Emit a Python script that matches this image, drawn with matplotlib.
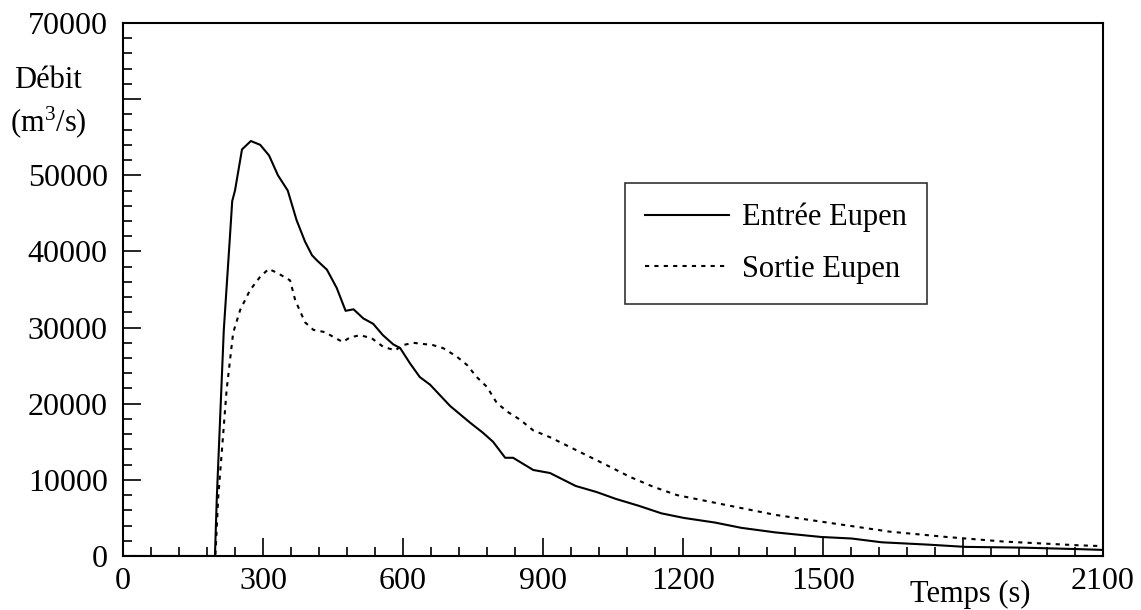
import matplotlib
matplotlib.use("Agg")
import matplotlib.pyplot as plt
import matplotlib.transforms as mtransforms
from matplotlib.ticker import FixedLocator, MultipleLocator

plt.rcParams["font.family"] = ["Liberation Serif", "DejaVu Serif"]
plt.rcParams["mathtext.fontset"] = "custom"
plt.rcParams["mathtext.rm"] = "Liberation Serif"
plt.rcParams["mathtext.default"] = "regular"

# Entrée Eupen (trait plein)
t_entree = [0, 190, 197, 201, 216, 229, 234, 240, 255, 274, 294, 313, 332, 353,
            372, 390, 405, 416, 437, 458, 477, 494, 515, 536, 557, 579, 594,
            615, 636, 658, 701, 744, 771, 793, 819, 836, 879, 915, 970, 1015,
            1056, 1105, 1154, 1202, 1268, 1325, 1398, 1496, 1561, 1626, 1724,
            1805, 1928, 2050, 2100]
q_entree = [0, 0, 0, 7600, 29700, 41800, 46600, 48000, 53400, 54500, 54000,
            52600, 50000, 48000, 44100, 41300, 39500, 38800, 37600, 35200,
            32200, 32400, 31200, 30500, 29000, 27800, 27300, 25300, 23500,
            22500, 19700, 17500, 16200, 15000, 12900, 12900, 11300, 10900,
            9200, 8400, 7500, 6600, 5600, 5000, 4400, 3700, 3100, 2500, 2300,
            1800, 1500, 1200, 1100, 900, 800]

# Sortie Eupen (pointillé)
t_sortie = [0, 190, 198, 204, 212, 222, 236, 251, 272, 293, 312, 330, 358, 369,
            390, 408, 433, 450, 471, 486, 508, 533, 557, 583, 600, 622, 664,
            686, 715, 737, 758, 780, 801, 825, 851, 879, 915, 958, 1001, 1044,
            1086, 1136, 1187, 1276, 1398, 1520, 1643, 1765, 1887, 2050, 2100]
q_sortie = [0, 0, 0, 7700, 13900, 21800, 29300, 32300, 34900, 36600, 37700,
            37200, 36200, 33600, 30700, 29700, 29400, 28800, 28100, 28700,
            29000, 28600, 27500, 27000, 27700, 28000, 27700, 27300, 26200,
            25100, 23500, 22200, 20100, 18900, 17900, 16500, 15600, 14300,
            13000, 11700, 10400, 9100, 8000, 6900, 5400, 4300, 3200, 2500,
            1900, 1400, 1300]

x_ticks = [0, 300, 600, 900, 1200, 1500, 1800, 2100]
x_labels = ["0", "300", "600", "900", "1200", "1500", "", "2100"]
y_ticks = [0, 10000, 20000, 30000, 40000, 50000, 60000, 70000]
y_labels = ["0", "10000", "20000", "30000", "40000", "50000", "", "70000"]

fig = plt.figure(figsize=(11.41, 6.10), dpi=100)
ax = fig.add_axes([0.1078, 0.0885, 0.8589, 0.8738])

ax.plot(t_entree, q_entree, color="black", lw=1.5, label="Entrée Eupen")
ax.plot(t_sortie, q_sortie, color="black", lw=1.5, linestyle=(0, (2, 2.5)),
        label="Sortie Eupen")

ax.set_xlim(0, 2100)
ax.set_ylim(0, 70000)

ax.xaxis.set_major_locator(FixedLocator(x_ticks))
ax.set_xticklabels(x_labels)
ax.xaxis.set_minor_locator(MultipleLocator(60))
ax.yaxis.set_major_locator(FixedLocator(y_ticks))
ax.set_yticklabels(y_labels)
ax.yaxis.set_minor_locator(MultipleLocator(2000))

ax.tick_params(which="both", direction="in", top=False, right=False,
               width=1.2, labelsize=23)
ax.tick_params(which="major", length=13)
ax.tick_params(which="minor", length=6.5)
ax.tick_params(axis="x", which="major", pad=8)
ax.tick_params(axis="y", which="major", pad=11)

for s in ax.spines.values():
    s.set_linewidth(1.5)

ax.text(-161, 62500, "Débit", fontsize=22, ha="center", va="center", clip_on=False)
ax.text(-161, 57000, r"(m$^{3}$/s)", fontsize=22, ha="center", va="center",
        clip_on=False)

trans = mtransforms.blended_transform_factory(ax.transData, ax.transAxes)
ax.text(1815, -0.073, "Temps (s)", fontsize=22, ha="center", va="center",
        transform=trans, clip_on=False)

leg = ax.legend(loc="upper left", bbox_to_anchor=(0.512, 0.70), fontsize=22,
                frameon=True, fancybox=False, edgecolor="black",
                handlelength=2.75, handletextpad=0.45, labelspacing=0.75,
                borderpad=0.65, borderaxespad=0)
leg.get_frame().set_linewidth(1.2)

plt.savefig("out.png", dpi=100)
